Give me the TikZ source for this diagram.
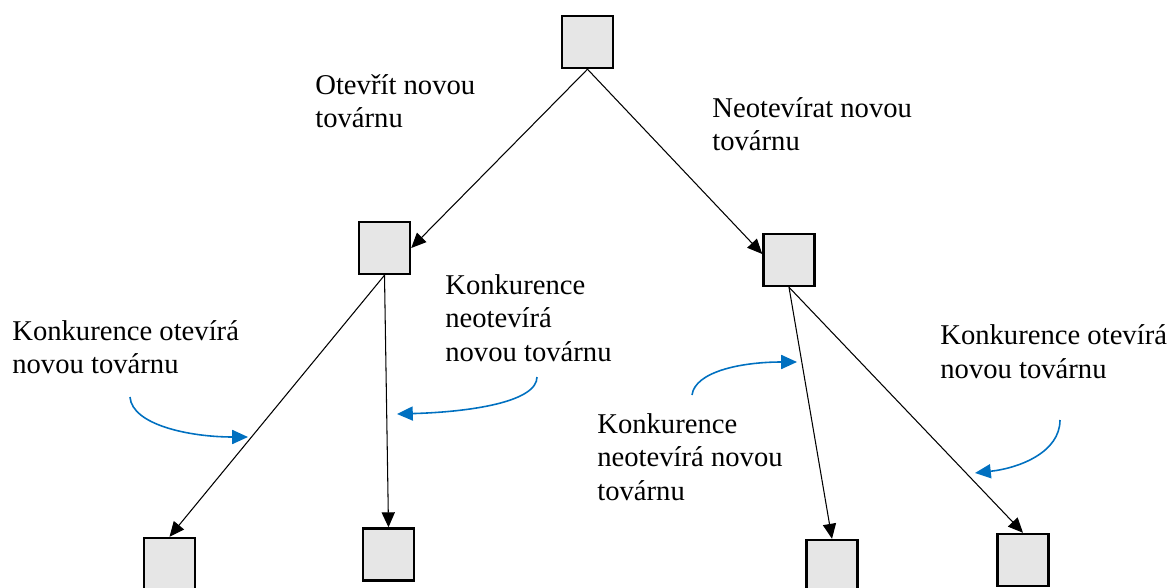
\documentclass[tikz,border=0pt]{standalone}
\usepackage{fontspec}
\setmainfont{Liberation Serif}
\usetikzlibrary{arrows.meta}
\definecolor{boxfill}{HTML}{E6E6E6}
\definecolor{hintblue}{HTML}{0070C0}
\begin{document}
\begin{tikzpicture}[x=0.02cm,y=-0.02cm,
  decision/.style={draw=black,line width=1.4pt,fill=boxfill,minimum width=1.02cm,minimum height=1.04cm,inner sep=0pt},
  branch/.style={draw=black,line width=0.6pt,-{Triangle[length=8.5pt,width=7.5pt]}},
  hint/.style={draw=hintblue,line width=0.9pt,-{Triangle[length=9pt,width=8pt]},fill=none},
  label/.style={anchor=base west,align=left,inner sep=0pt,font=\fontsize{16.3}{19}\selectfont}]
\useasboundingbox (0,0) rectangle (1173,588);

% decision boxes
\node[decision] (top)  at (587.5,42) {};
\node[decision] (midL) at (384.5,248) {};
\node[decision] (midR) at (789,260) {};
\node[decision] (botLL) at (169.5,564) {};
\node[decision] (botLR) at (388.5,554.5) {};
\node[decision] (botRL) at (832,566) {};
\node[decision] (botRR) at (1023,560) {};

% branches of the tree
\draw[branch] (top.south) -- (midL.east);
\draw[branch] (top.south) -- ([yshift=0.12cm]midR.west);
\draw[branch] (midL.south) -- (botLL.north);
\draw[branch] (midL.south) -- (botLR.north);
\draw[branch] (midR.south) -- (botRL.north);
\draw[branch] (midR.south) -- (botRR.north);

% branch labels (anchored at the baseline of the last line)
\node[label] (tOpen)  at (315,127.5) {Otevřít novou\\továrnu};
\node[label] (tNoOpen) at (712,150.5) {Neotevírat novou\\továrnu};
\node[label] (tLL) at (12,373.5) {Konkurence otevírá\\novou továrnu};
\node[label] (tLR) at (445,361) {Konkurence\\neotevírá\\novou továrnu};
\node[label] (tRL) at (597,500) {Konkurence\\neotevírá novou\\továrnu};
\node[label] (tRR) at (940,378) {Konkurence otevírá\\novou továrnu};

% pointers from labels to branches
\coordinate (p1s) at (130,397);  \coordinate (p1e) at (248,437);
\coordinate (p2s) at (537,377);  \coordinate (p2e) at (397,414);
\coordinate (p3s) at (692,395);  \coordinate (p3e) at (797,362);
\coordinate (p4s) at (1060,420); \coordinate (p4e) at (975,473);
\draw[hint] (p1s) .. controls (132,425) and (190,437) .. (p1e);
\draw[hint] (p2s) .. controls (537,402) and (470,412) .. (p2e);
\draw[hint] (p3s) .. controls (695,372) and (740,362) .. (p3e);
\draw[hint] (p4s) .. controls (1060,452) and (1020,468) .. (p4e);
\end{tikzpicture}
\end{document}
